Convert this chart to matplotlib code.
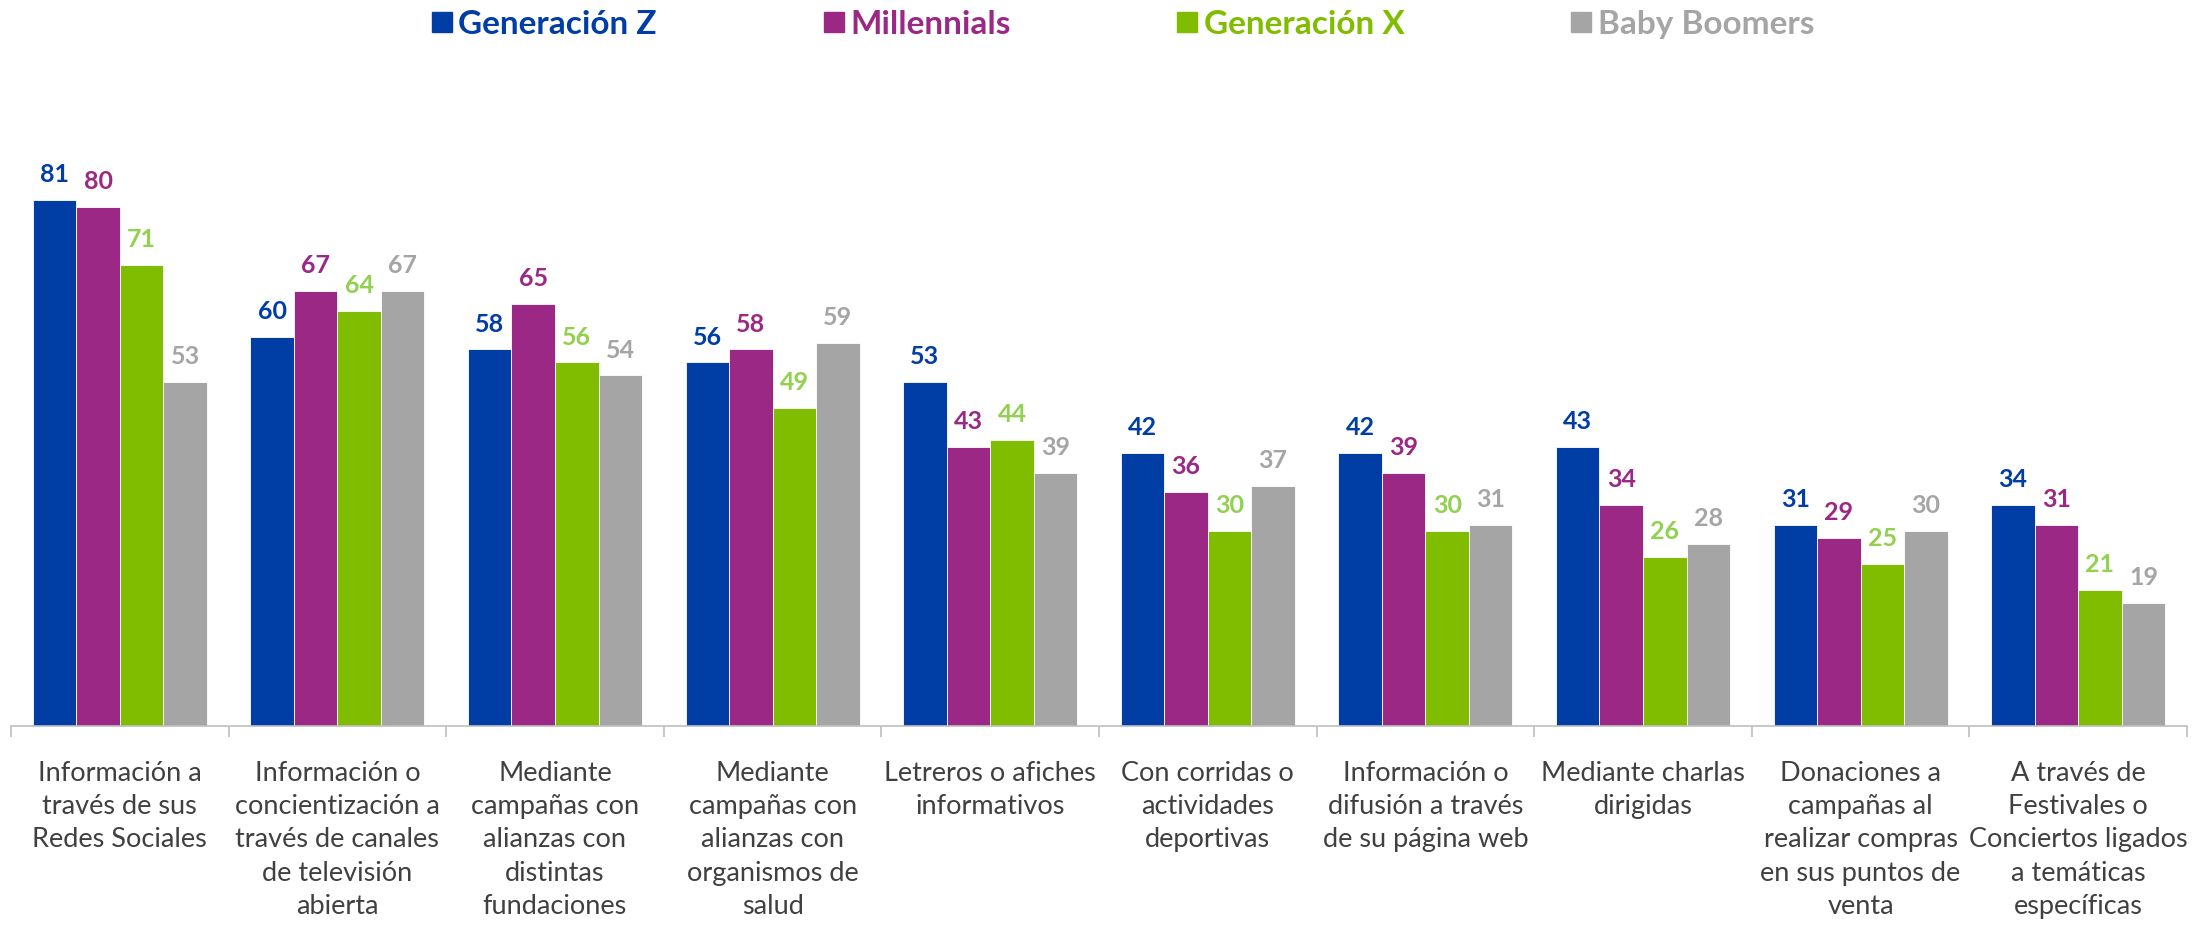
import numpy as np
import matplotlib
matplotlib.use("Agg")
import matplotlib.pyplot as plt
from matplotlib.lines import Line2D

plt.rcParams['font.family'] = ['Lato', 'DejaVu Sans']

categories = [
    "Información a\ntravés de sus\nRedes Sociales",
    "Información o\nconcientización a\ntravés de canales\nde televisión\nabierta",
    "Mediante\ncampañas con\nalianzas con\ndistintas\nfundaciones",
    "Mediante\ncampañas con\nalianzas con\norganismos de\nsalud",
    "Letreros o afiches\ninformativos",
    "Con corridas o\nactividades\ndeportivas",
    "Información o\ndifusión a través\nde su página web",
    "Mediante charlas\ndirigidas",
    "Donaciones a\ncampañas al\nrealizar compras\nen sus puntos de\nventa",
    "A través de\nFestivales o\nConciertos ligados\na temáticas\nespecíficas",
]
series = ["Generación Z", "Millennials", "Generación X", "Baby Boomers"]
gen_z = [81, 60, 58, 56, 53, 42, 42, 43, 31, 34]
millennials = [80, 67, 65, 58, 43, 36, 39, 34, 29, 31]
gen_x = [71, 64, 56, 49, 44, 30, 30, 26, 25, 21]
boomers = [53, 67, 54, 59, 39, 37, 31, 28, 30, 19]

bar_colors = ["#003DA5", "#9B2885", "#80BC00", "#A5A5A5"]
label_colors = ["#003DA5", "#9B2885", "#92D050", "#A5A5A5"]

fig = plt.figure(figsize=(21.98, 9.30), dpi=100)
ax = fig.add_axes([0.005, 0.2194, 0.99, 0.7161])

x = np.arange(len(categories))
w = 0.2
for i, vals in enumerate([gen_z, millennials, gen_x, boomers]):
    pos = x + (i - 1.5) * w
    ax.bar(pos, vals, width=w, color=bar_colors[i], edgecolor="white", linewidth=0.6)
    for p, v in zip(pos, vals):
        ax.annotate(str(v), (p, v), xytext=(0, 10), textcoords="offset points",
                    ha="center", va="bottom", fontsize=18, fontweight="bold",
                    color=label_colors[i])

ax.set_xlim(-0.5, len(categories) - 0.5)
ax.set_ylim(0, 102.6)
for s in ["top", "left", "right"]:
    ax.spines[s].set_visible(False)
ax.spines["bottom"].set_color("#BFBFBF")
ax.spines["bottom"].set_linewidth(1.2)
ax.set_yticks([])
ax.set_xticks(x)
ax.set_xticklabels(categories, fontsize=19.5, color="#404040", linespacing=1.42)
ax.tick_params(axis="x", which="major", length=0, pad=25)
ax.set_xticks(np.arange(-0.5, len(categories)), minor=True)
ax.tick_params(axis="x", which="minor", length=8, color="#BFBFBF", width=1.2)

handles = [Line2D([], [], marker="s", linestyle="none", markersize=14,
                  color=c) for c in bar_colors]
fig.legend(handles, series, loc="center", bbox_to_anchor=(0.511, 0.974),
           ncol=4, frameon=False, handlelength=0.6,
           handletextpad=0.2, columnspacing=5.0, labelcolor=bar_colors,
           prop={"weight": "bold", "size": 24})

fig.savefig("out.png", dpi=100)
